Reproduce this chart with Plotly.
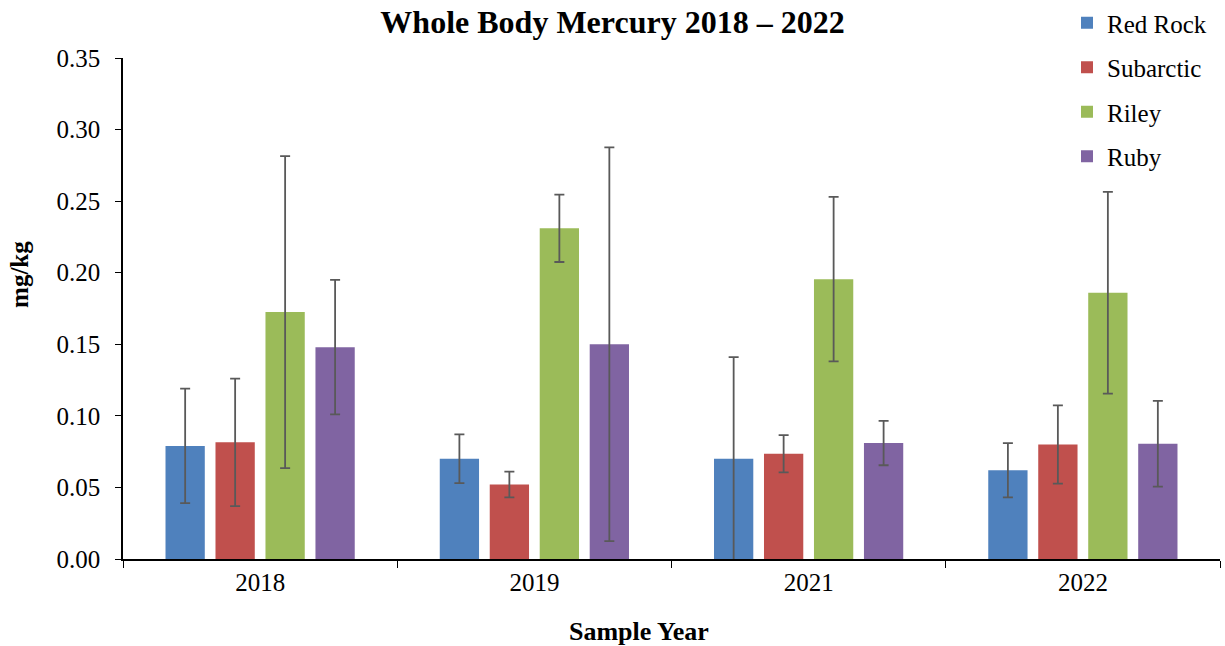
import plotly.graph_objects as go

years = ["2018", "2019", "2021", "2022"]
series_names = ["Red Rock", "Subarctic", "Riley", "Ruby"]
red_rock = [0.079, 0.070, 0.070, 0.062]
red_rock_err = [0.040, 0.017, 0.071, 0.019]
subarctic = [0.0815, 0.052, 0.0735, 0.080]
subarctic_err = [0.0445, 0.009, 0.013, 0.0273]
riley = [0.1725, 0.231, 0.1955, 0.186]
riley_err = [0.109, 0.0235, 0.0575, 0.0705]
ruby = [0.148, 0.150, 0.081, 0.0805]
ruby_err = [0.047, 0.1375, 0.0155, 0.030]

values = [red_rock, subarctic, riley, ruby]
errors = [red_rock_err, subarctic_err, riley_err, ruby_err]
colors = ["#4F81BD", "#C0504D", "#9BBB59", "#8064A2"]

FONT = "Liberation Serif"

fig = go.Figure()
for name, v, e, c in zip(series_names, values, errors, colors):
    fig.add_trace(go.Bar(
        x=years, y=v, name=name, legendgroup=name,
        marker=dict(color=c, line=dict(width=0)),
        error_y=dict(type="data", array=e, visible=True, color="#595959",
                     thickness=1.8, width=5),
    ))

fig.update_layout(
    width=1225, height=646,
    paper_bgcolor="white", plot_bgcolor="white",
    margin=dict(l=123, r=5, t=58, b=87, autoexpand=False),
    barmode="group", bargap=0.271, bargroupgap=0.214,
    font=dict(family=FONT, color="black", size=24),
    title=dict(text="<b>Whole Body Mercury 2018 – 2022</b>", x=0.5, xref="container",
               y=0.966, yref="container", yanchor="middle", xanchor="center",
               font=dict(family=FONT, size=32, color="black")),
    legend=dict(xref="container", yref="container", x=0.871, y=1.025,
                xanchor="left", yanchor="top", tracegroupgap=9,
                font=dict(family=FONT, size=25, color="black"),
                bgcolor="rgba(0,0,0,0)"),
    showlegend=True,
)
fig.update_xaxes(
    type="category", showline=True, linecolor="black", linewidth=1.5,
    ticks="outside", tickson="boundaries", ticklen=7, tickcolor="black",
    tickfont=dict(family=FONT, size=25, color="black"), showgrid=False,
)
fig.update_yaxes(
    range=[0, 0.35], dtick=0.05, tickformat=".2f", showline=True,
    linecolor="black", linewidth=1.5, ticks="outside", ticklen=6, tickcolor="black",
    ticklabelstandoff=10,
    tickfont=dict(family=FONT, size=25, color="black"), showgrid=False, zeroline=False,
)
fig.add_annotation(text="<b>Sample Year</b>", xref="paper", yref="paper",
                   x=0.470, y=-0.145, yanchor="middle", showarrow=False,
                   font=dict(family=FONT, size=26, color="black"))
fig.add_annotation(text="<b>mg/kg</b>", xref="paper", yref="paper",
                   x=(20 - 123) / 1097, y=0.567, xanchor="center", yanchor="middle",
                   textangle=-90, showarrow=False,
                   font=dict(family=FONT, size=25, color="black"))

post = ("document.body.style.margin='0';document.body.style.overflow='hidden';"
        "var gd=document.getElementById('{plot_id}');"
        "Plotly.relayout(gd,{width:1225,height:646});")
fig.write_html("out.html", post_script=post, config={"displayModeBar": False})
